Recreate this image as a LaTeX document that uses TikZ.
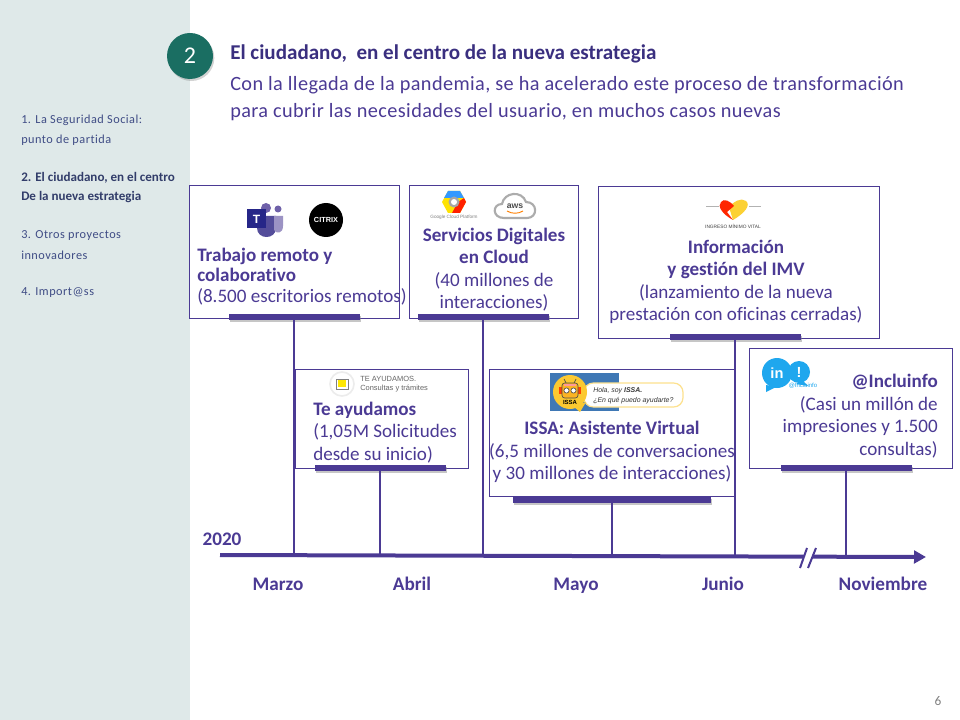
\documentclass[tikz,border=0pt]{standalone}
\usepackage{xcolor}
\usepackage{fontspec}
\usepackage{tikz}
\usetikzlibrary{arrows.meta,shadows}
\setmainfont[Ligatures=NoCommon]{Carlito}
\newfontfamily\espaciada[LetterSpace=4,Ligatures=NoCommon]{Carlito}
\newfontfamily\subfont[LetterSpace=2,Ligatures=NoCommon]{Carlito}
\newfontfamily\logofont{Liberation Sans}
\definecolor{morado}{HTML}{4B3A94}
\definecolor{oscuro}{HTML}{3A2F7F}
\definecolor{lateral}{HTML}{DFE9E9}
\definecolor{verde}{HTML}{1A6E62}
\definecolor{menu}{HTML}{3F4C85}
\definecolor{celeste}{HTML}{1FA7EE}
\definecolor{issaazul}{HTML}{3F78B5}
\definecolor{issaamar}{HTML}{FBC931}
\tikzset{
  caja/.style={draw=morado, line width=0.7pt, fill=white, inner sep=0pt},
  barra/.style={fill=morado, inner sep=0pt, minimum width=131*0.75pt, minimum height=6*0.75pt,
    drop shadow={shadow xshift=1pt, shadow yshift=-1.5pt, opacity=0.45}},
  tallo/.style={draw=morado, line width=1.1pt},
  corte/.style={draw=morado, line width=1.5pt},
  texto/.style={text=morado, inner sep=0pt, font=\fontsize{14.3}{16.9}\selectfont},
  mes/.style={text=morado, inner sep=0pt, anchor=base, font=\fontsize{14.4}{16}\selectfont\bfseries},
  lista/.style={text=menu, inner sep=0pt, anchor=west, font=\fontsize{9.2}{10}\espaciada},
  listab/.style={text=menu!80!black, inner sep=0pt, anchor=west, font=\fontsize{9.8}{10}\selectfont\bfseries},
  logo/.style={inner sep=0pt, font=\logofont}
}
\begin{document}
\begin{tikzpicture}[x=0.75pt,y=-0.75pt]
  \useasboundingbox (0,0) rectangle (960,720);
  % Banda lateral
  \fill[lateral] (0,0) rectangle (190,720);
  \node[lista] (menuA) at (21,120) {1. La Seguridad Social:};
  \node[lista] (menuB) at (21,140) {punto de partida};
  \node[listab] (menuC) at (21,178) {2. El ciudadano, en el centro};
  \node[listab] (menuD) at (21,197) {De la nueva estrategia};
  \node[lista] (menuE) at (21,236) {3. Otros proyectos};
  \node[lista] (menuF) at (21,255) {innovadores};
  \node[lista] (menuG) at (21,293) {4. Import@ss};
  % Cabecera
  \node[circle, fill=verde, minimum size=46*0.75pt, inner sep=0pt, text=white,
    font=\fontsize{18}{20}\selectfont, drop shadow={shadow xshift=1pt, shadow yshift=-1.5pt, opacity=0.35}]
    (numero) at (190,56) {2};
  \node[anchor=west, inner sep=0pt, text=oscuro, font=\fontsize{15.8}{18}\selectfont\bfseries]
    (titulo) at (230,54) {El ciudadano,\ \ en el centro de la nueva estrategia};
  \node[anchor=west, inner sep=0pt, text=morado, align=left, font=\fontsize{15.2}{20.2}\subfont]
    (subtitulo) at (230,98.5) {Con la llegada de la pandemia, se ha acelerado este proceso de transformación\\
    para cubrir las necesidades del usuario, en muchos casos nuevas};
  % Cajas
  \node[caja, minimum width=210*0.75pt, minimum height=133*0.75pt] (remoto) at (294,251.5) {};
  \node[caja, minimum width=169*0.75pt, minimum height=133*0.75pt] (nube) at (493.5,251.5) {};
  \node[caja, minimum width=281*0.75pt, minimum height=152*0.75pt] (imv) at (738.5,262) {};
  \node[caja, minimum width=173*0.75pt, minimum height=99*0.75pt] (ayuda) at (381.5,418.5) {};
  \node[caja, minimum width=246*0.75pt, minimum height=127*0.75pt] (issa) at (612,432.5) {};
  \node[caja, minimum width=203*0.75pt, minimum height=120*0.75pt] (inclu) at (850.5,408) {};
  % Eje del tiempo
  \coordinate (ini) at (220,555);
  \coordinate (fin) at (926,557);
  \coordinate (tMarzo) at (294,555.2);
  \coordinate (tAbril) at (380,555.5);
  \coordinate (tNube) at (483,555.8);
  \coordinate (tMayo) at (612,556);
  \coordinate (tJunio) at (735,556.5);
  \coordinate (tNov) at (846,557);
  \coordinate (corteA) at (800,568);
  \coordinate (corteB) at (807,548);
  \coordinate (corteC) at (808,568);
  \coordinate (corteD) at (816,548);
  \draw[morado, line width=3pt, -{Triangle[length=9pt,width=9.5pt]}] (ini) -- (fin);
  \fill[white] (802.5,562) -- (810.5,562) -- (813,552) -- (805,552) -- cycle;
  \draw[corte] (corteA) -- (corteB);
  \draw[corte] (corteC) -- (corteD);
  % Barras y tallos
  \node[barra] (bRemoto) at (294,317) {};
  \node[barra] (bNube) at (483,317) {};
  \node[barra] (bImv) at (735,337) {};
  \node[barra] (bAyuda) at (380,468) {};
  \node[barra, minimum width=198*0.75pt] (bIssa) at (612,500) {};
  \node[barra] (bInclu) at (846,468) {};
  \draw[tallo] (bRemoto.south) -- (tMarzo);
  \draw[tallo] (bAyuda.south) -- (tAbril);
  \draw[tallo] (bNube.south) -- (tNube);
  \draw[tallo] (bIssa.south) -- (tMayo);
  \draw[tallo] (bImv.south) -- (tJunio);
  \draw[tallo] (bInclu.south) -- (tNov);
  % Textos de las cajas
  \node[texto, anchor=west, align=left, font=\fontsize{14.3}{15.6}\selectfont] (tRemoto) at (197,276.5)
    {\textbf{Trabajo remoto y}\\\textbf{colaborativo}\\(8.500 escritorios remotos)};
  \node[texto, anchor=west, align=left] (tAyuda) at (313,432.5)
    {\textbf{Te ayudamos}\\(1,05M Solicitudes\\desde su inicio)};
  \node[texto, align=center] (tServ) at (494,269.5)
    {\textbf{Servicios Digitales}\\\textbf{en Cloud}\\(40 millones de\\interacciones)};
  \node[texto, align=center] (tIssa) at (612,452)
    {\textbf{ISSA: Asistente Virtual}\\(6,5 millones de conversaciones\\y 30 millones de interacciones)};
  \node[texto, align=center] (tImv) at (736,282)
    {\textbf{Información}\\\textbf{y gestión del IMV}\\(lanzamiento de la nueva\\prestación con oficinas cerradas)};
  \node[texto, anchor=east, align=right] (tInclu) at (938,416)
    {\textbf{@Incluinfo}\\(Casi un millón de\\impresiones y 1.500\\consultas)};
  % Fechas
  \node[mes] (anio) at (222,545) {2020};
  \node[mes] (mMarzo) at (278,590) {Marzo};
  \node[mes] (mAbril) at (412,590) {Abril};
  \node[mes] (mMayo) at (576,590) {Mayo};
  \node[mes] (mJunio) at (723,590) {Junio};
  \node[mes] (mNov) at (883,590) {Noviembre};
  % Logos: Teams y Citrix
  \fill[black!10!blue!30!gray!60!morado] (257,216) -- (276,216) -- (276,228) .. controls (276,240) and (257,240) .. (257,228) -- cycle;
  \fill[morado!55] (274,216) -- (283,216) -- (283,226) .. controls (283,234) and (276,234) .. (274,230) -- cycle;
  \fill[morado!80] (266,208) circle (5);
  \fill[morado!80] (278,209) circle (3.5);
  \node[fill=blue!45!black!85, text=white, minimum size=19*0.75pt, inner sep=0pt, font=\logofont\fontsize{9}{9}\selectfont\bfseries]
    (teams) at (256.5,219) {T};
  \node[circle, fill=black, text=white, minimum size=34*0.75pt, inner sep=0pt, font=\logofont\fontsize{5.5}{5}\selectfont\bfseries]
    (citrix) at (326,220) {CITRIX};
  % Logos: Google Cloud y AWS
  \fill[yellow!85!orange] (442,202) -- (448,191) -- (460,191) -- (466,202) -- (460,213) -- (448,213) -- cycle;
  \fill[blue!50!cyan!80] (448,191) -- (460,191) -- (464,198) -- (444,198) -- cycle;
  \fill[red!75!orange] (466,202) -- (460,213) -- (452,213) -- (458,202) -- (464,198) -- cycle;
  \fill[gray!70] (454,202) circle (5.5);
  \fill[white] (454,202) circle (3);
  \node[logo, text=gray, font=\logofont\fontsize{3.5}{5}\selectfont] (gcp) at (454,217) {Google Cloud Platform};
  \draw[gray!65, line width=1.6pt] (504,218) .. controls (492,218) and (492,204) .. (502,204)
    .. controls (504,192) and (522,190) .. (526,202) .. controls (538,202) and (538,218) .. (527,218) -- cycle;
  \node[logo, text=black!70, font=\logofont\fontsize{6.5}{7}\selectfont\bfseries] (aws) at (515,206) {aws};
  \draw[orange, line width=0.7pt] (507,211) .. controls (512,214) and (518,214) .. (523,211);
  % Logo: Te ayudamos
  \draw[gray!15, fill=white, line width=1.2pt] (342,384) circle (12);
  \fill[yellow!90!orange] (338,380) rectangle (346,387);
  \draw[gray, line width=0.4pt] (336,379) rectangle (348,389);
  \node[logo, anchor=west, text=gray!80!black, font=\logofont\fontsize{5.6}{6}\selectfont] (lAyudaA) at (360,379) {TE AYUDAMOS.};
  \node[logo, anchor=west, text=gray!80!black, font=\logofont\fontsize{5.6}{6}\selectfont] (lAyudaB) at (360,389) {Consultas y trámites};
  % Logo: ISSA
  \fill[issaazul] (550,373) rectangle (619,411);
  \draw[issaamar!55, fill=white, line width=0.9pt, rounded corners=7pt] (584,383) -- (683,383) -- (683,407) -- (584,407) -- cycle;
  \fill[issaamar] (570,392) circle (17);
  \fill[issaamar] (573,406) -- (586,402) -- (580,412) -- cycle;
  \draw[black!70, line width=0.5pt] (566,383) -- (564,379);
  \draw[black!70, line width=0.5pt] (574,383) -- (576,379);
  \fill[red!50!orange] (559,387) rectangle (581,394);
  \draw[black!70, fill=issaamar!70!orange, line width=0.5pt, rounded corners=2pt] (562,383) rectangle (578,398);
  \fill[pink!80!red] (564,383.5) rectangle (576,386);
  \draw[black!70, fill=white, line width=0.5pt] (566.5,390.5) circle (2.6);
  \draw[black!70, fill=white, line width=0.5pt] (573.5,390.5) circle (2.6);
  \node[logo, text=black, font=\logofont\fontsize{4.5}{5}\selectfont\bfseries] (lIssa) at (570,402) {ISSA};
  \node[logo, anchor=west, text=black!80, font=\logofont\fontsize{5.2}{6}\selectfont\itshape] (lHola) at (593,391) {Hola, soy \textbf{ISSA.}};
  \node[logo, anchor=west, text=black!80, font=\logofont\fontsize{5.2}{6}\selectfont\itshape] (lPuedo) at (593,401) {¿En qué puedo ayudarte?};
  % Logo: IMV
  \draw[gray!60, line width=0.4pt] (706,206) -- (719,206);
  \draw[gray!60, line width=0.4pt] (749,206) -- (761,206);
  \fill[yellow!60!orange!80] (733,220) .. controls (745,213) and (751,205) .. (746,201) .. controls (741,197) and (733,202) .. (729,207) -- cycle;
  \fill[red!70!orange] (733,220) .. controls (722,214) and (717,206) .. (721,202) .. controls (724,198) and (730,201) .. (734,206) -- (727,212) -- cycle;
  \node[logo, text=black!75, font=\logofont\fontsize{3.6}{5}\selectfont] (lImv) at (733,226) {INGRESO MÍNIMO VITAL};
  % Logo: Incluinfo
  \fill[celeste] (766,385) -- (766,392) -- (776,387) -- cycle;
  \fill[celeste] (802,380) -- (808,386) -- (796,384) -- cycle;
  \node[circle, fill=celeste, text=white, minimum size=30*0.75pt, inner sep=0pt, font=\logofont\fontsize{11}{11}\selectfont\bfseries]
    (lIn) at (777,373) {in};
  \node[circle, fill=celeste, text=white, minimum size=22*0.75pt, inner sep=0pt, font=\logofont\fontsize{11}{11}\selectfont\bfseries]
    (lExc) at (799,372) {!};
  \node[logo, text=celeste, font=\logofont\fontsize{4.5}{5}\selectfont] (lArroba) at (803,386) {@Incluinfo};
  % Pagina
  \node[inner sep=0pt, text=gray, font=\fontsize{10}{12}\selectfont] (pagina) at (938,701) {6};
\end{tikzpicture}
\end{document}
